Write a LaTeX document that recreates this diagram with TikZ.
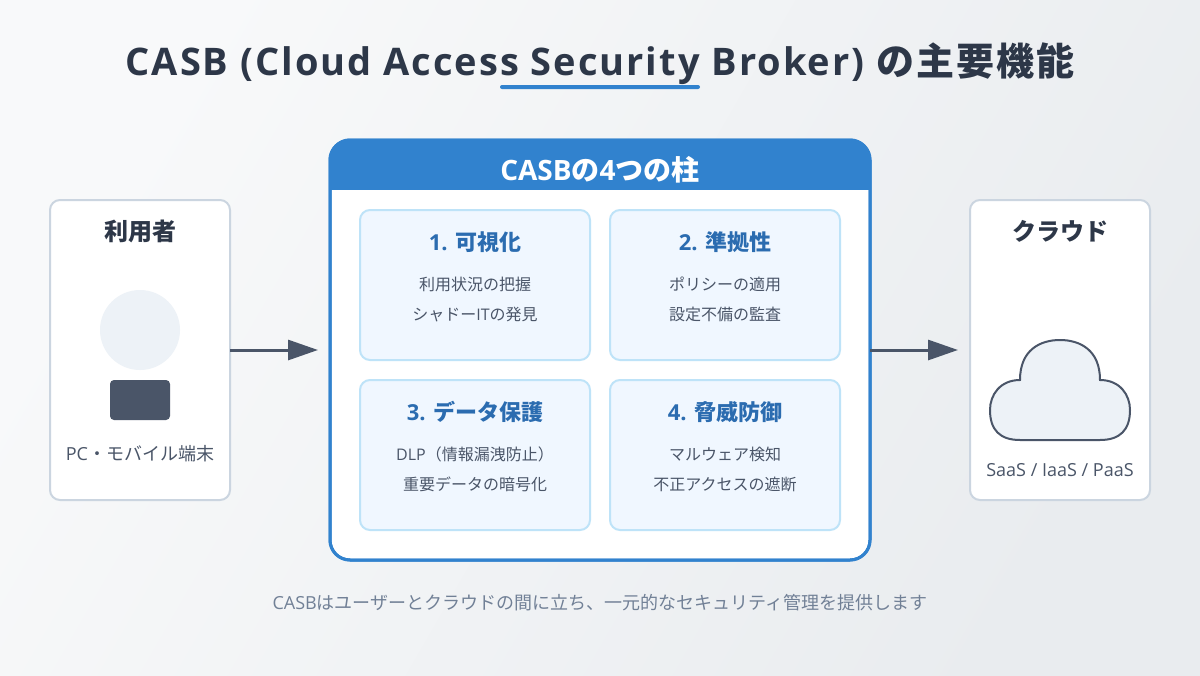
\documentclass[tikz,border=0pt]{standalone}
\usepackage{fontspec}
\usetikzlibrary{arrows.meta}
\setmainfont{Noto Sans CJK JP}
\newfontfamily\lt{Open Sans}[BoldFont={Open Sans Bold}]
\newfontfamily\ttljp[LetterSpace=5.26]{Noto Sans CJK JP}
\newfontfamily\ttllt[LetterSpace=5.26,BoldFont={Open Sans Bold}]{Open Sans}
\newcommand{\fsz}[1]{\fontsize{\dimexpr#1pt*3/4\relax}{\dimexpr#1pt*3/4\relax}\selectfont}
\definecolor{ink}{HTML}{2D3748}
\definecolor{slate}{HTML}{4A5568}
\definecolor{mute}{HTML}{718096}
\definecolor{brand}{HTML}{3182CE}
\definecolor{brandd}{HTML}{2B6CB0}
\definecolor{edgeg}{HTML}{CBD5E0}
\definecolor{paleg}{HTML}{EDF2F7}
\definecolor{cardf}{HTML}{F0F7FF}
\definecolor{carde}{HTML}{BEE3F8}
\definecolor{bga}{HTML}{F8F9FA}
\definecolor{bgb}{HTML}{E9ECEF}
\tikzset{
  txt/.style={anchor=base,inner sep=0pt,outer sep=0pt},
  sidebox/.style={draw=edgeg,fill=white,line width=1.5pt,rounded corners=7.5pt,minimum width=135pt,minimum height=225pt,inner sep=0pt,outer sep=0pt},
  mainbox/.style={draw=brand,line width=2.25pt,rounded corners=15pt,minimum width=405pt,minimum height=315pt,inner sep=0pt,outer sep=0pt},
  cardbox/.style={draw=carde,fill=cardf,line width=1.5pt,rounded corners=7.5pt,minimum width=172.5pt,minimum height=112.5pt,inner sep=0pt,outer sep=0pt},
  flow/.style={draw=slate,line width=2.25pt,-{Triangle[length=22.5pt,width=15pt,sep=0pt]}},
  ttl/.style={txt,text=ink,font=\bfseries\fsz{38}},
  hdr/.style={txt,text=white,font=\bfseries\fsz{28}},
  sidet/.style={txt,text=ink,font=\bfseries\fsz{24}},
  sideb/.style={txt,text=slate,font=\fsz{18}},
  cardt/.style={txt,text=brandd,font=\bfseries\fsz{22}},
  cardb/.style={txt,text=slate,font=\fsz{16}},
  foot/.style={txt,text=mute,font=\fsz{18}},
}
\begin{document}
\begin{tikzpicture}[x=0.75pt,y=-0.75pt]
\useasboundingbox (0,0) rectangle (1200,675);
\shade[shading=axis,left color=bga,right color=bgb,shading angle=60] (0,0) rectangle (1200,675);
\node[ttl] (title) at (600,75) {{\ttllt\bfseries CASB (Cloud Access Security Broker) }{\ttljp\bfseries の主要機能}};
\fill[brand,rounded corners=1.5pt] (500,85) rectangle (700,89);
% side boxes
\node[sidebox] (user) at (140,350) {};
\node[sidebox] (cloudbox) at (1060,350) {};
\node[sidet] (usert) at (140,240) {利用者};
\fill[paleg] (140,330) circle[radius=30pt];
\fill[slate,rounded corners=3pt] (110,380) rectangle (170,420);
\node[sideb] (userb) at (140,460) {{\lt PC}・モバイル端末};
\node[sidet] (cloudt) at (1060,240) {クラウド};
\draw[slate,fill=paleg,line width=1.5pt] (1020,380) .. controls (1020,350) and (1040,340) .. (1060,340)
  .. controls (1080,340) and (1100,350) .. (1100,380)
  .. controls (1120,380) and (1130,395) .. (1130,410)
  .. controls (1130,430) and (1120,440) .. (1100,440)
  -- (1020,440) .. controls (1000,440) and (990,430) .. (990,410)
  .. controls (990,395) and (1000,380) .. (1020,380) -- cycle;
\node[sideb] (cloudb) at (1060,476) {\lt SaaS / IaaS / PaaS};
% main
\node[mainbox,fill=white] (broker) at (600,350) {};
\begin{scope}
\clip[rounded corners=15pt] (330,140) rectangle (870,560);
\fill[brand] (330,140) rectangle (870,190);
\end{scope}
\node[mainbox] (brokeredge) at (600,350) {};
\node[hdr] (hdrt) at (600,180) {{\lt\bfseries CASB}の{\lt\bfseries 4}つの柱};
\node[cardbox] (c1) at (475,285) {};
\node[cardbox] (c2) at (725,285) {};
\node[cardbox] (c3) at (475,455) {};
\node[cardbox] (c4) at (725,455) {};
\node[cardt] (c1t) at (475,250) {{\lt\bfseries 1. }可視化};
\node[cardb] (c1a) at (475,290) {利用状況の把握};
\node[cardb] (c1b) at (475,320) {シャドー{\lt IT}の発見};
\node[cardt] (c2t) at (725,250) {{\lt\bfseries 2. }準拠性};
\node[cardb] (c2a) at (725,290) {ポリシーの適用};
\node[cardb] (c2b) at (725,320) {設定不備の監査};
\node[cardt] (c3t) at (475,420) {{\lt\bfseries 3. }データ保護};
\node[cardb] (c3a) at (475,460) {{\lt DLP}（情報漏洩防止）};
\node[cardb] (c3b) at (475,490) {重要データの暗号化};
\node[cardt] (c4t) at (725,420) {{\lt\bfseries 4. }脅威防御};
\node[cardb] (c4a) at (725,460) {マルウェア検知};
\node[cardb] (c4b) at (725,490) {不正アクセスの遮断};
\draw[flow] (user.east) -- ([xshift=-9pt]broker.west);
\draw[flow] (broker.east) -- ([xshift=-9pt]cloudbox.west);
\node[foot] (note) at (600,609) {{\lt CASB}はユーザーとクラウドの間に立ち、一元的なセキュリティ管理を提供します};
\end{tikzpicture}
\end{document}
